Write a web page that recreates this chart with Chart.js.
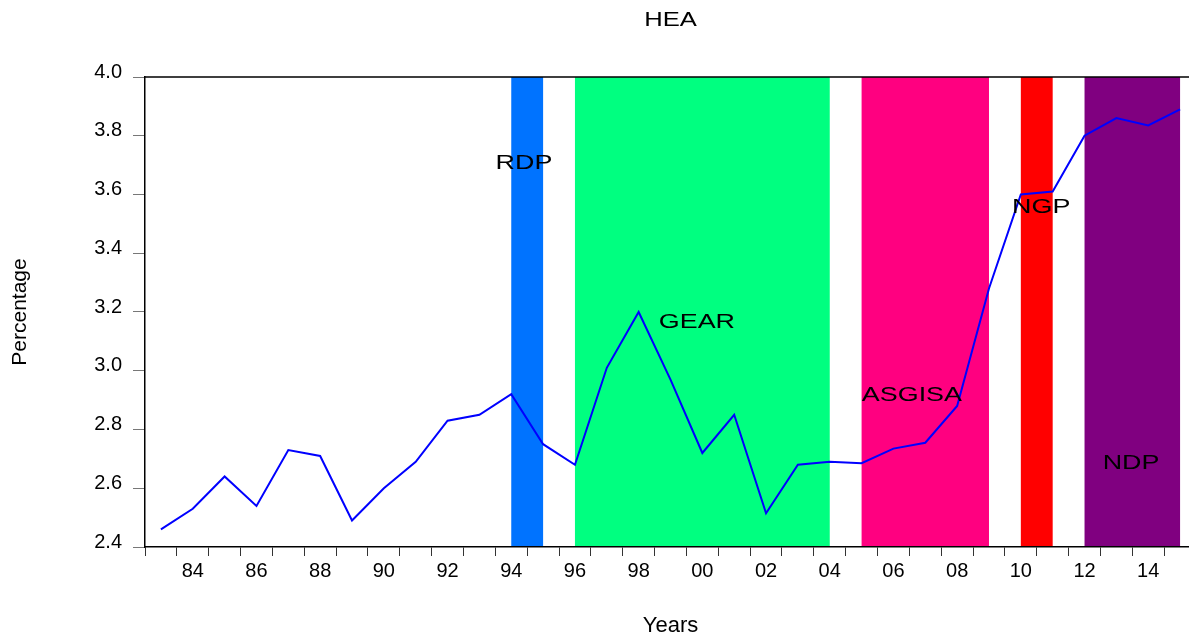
<!DOCTYPE html>
<html>
<head>
<meta charset="utf-8">
<title>HEA</title>
<script src="https://cdn.jsdelivr.net/npm/chart.js@4.4.1/dist/chart.umd.min.js"></script>
<style>
  html, body { margin: 0; padding: 0; overflow: hidden; background: #fff; }
  #wrap { width: 1200px; height: 640px; }
</style>
</head>
<body>
<div id="wrap"><canvas id="chartHea" width="1200" height="640"></canvas></div>
<script>
// data (annual, 1983-2015)
const years = [
  "83", "84", "85", "86", "87", "88", "89", "90", "91", "92", "93",
  "94", "95", "96", "97", "98", "99", "00", "01", "02", "03", "04",
  "05", "06", "07", "08", "09", "10", "11", "12", "13", "14", "15",
];
const heaValues = [
  2.46, 2.53, 2.64, 2.54, 2.73, 2.71, 2.49, 2.60, 2.69, 2.83, 2.85,
  2.92, 2.75, 2.68, 3.01, 3.20, 2.97, 2.72, 2.85, 2.515, 2.68, 2.69,
  2.685, 2.735, 2.755, 2.88, 3.28, 3.60, 3.61, 3.80, 3.86, 3.835, 3.89,
];
const yTicks = [2.4, 2.6, 2.8, 3.0, 3.2, 3.4, 3.6, 3.8, 4.0];

// policy periods (shaded bands)
const policyNames = ["RDP", "GEAR", "ASGISA", "NGP", "NDP"];
const policyStart = ["94", "96", "05", "10", "12"];
const policyEnd = ["95", "04", "09", "11", "15"];
// where each name sits, in data units (year, value)
const labelYear = [1994.4, 1999.83, 2006.58, 2010.64, 2013.46];
const labelValue = [3.707, 3.166, 2.917, 3.557, 2.686];

// styles
const bandColors = ["#0073ff", "#00ff80", "#ff0080", "#ff0000", "#800080"];
const FONT = "'Liberation Sans', Arial, Helvetica, sans-serif";
const STRETCH = 1.28; // the original's text is drawn wider than plain Arial
Chart.defaults.font.family = FONT;
Chart.defaults.color = "#000";

function wideText(ctx, text, x, y) {
  ctx.save();
  ctx.translate(x, y);
  ctx.scale(STRETCH, 1);
  ctx.fillText(text, 0, 0);
  ctx.restore();
}

// shaded bands behind everything, names + frame on top
const bandsPlugin = {
  id: "bands",
  beforeDraw(chart) {
    const { ctx, chartArea, scales } = chart;
    const x = scales.x;
    ctx.save();
    policyNames.forEach((name, i) => {
      const x1 = x.getPixelForValue(years.indexOf(policyStart[i]));
      const x2 = x.getPixelForValue(years.indexOf(policyEnd[i]));
      ctx.fillStyle = bandColors[i];
      ctx.fillRect(x1, chartArea.top, x2 - x1, chartArea.bottom - chartArea.top);
    });
    ctx.restore();
  },
  afterDatasetsDraw(chart) {
    const { ctx, chartArea, scales } = chart;
    ctx.save();
    ctx.fillStyle = "#000";
    ctx.textAlign = "center";
    ctx.textBaseline = "middle";
    // chart title, centred over the plot
    ctx.font = "20px " + FONT;
    wideText(ctx, "HEA", (chartArea.left + chartArea.right) / 2, 20);
    // band names
    ctx.font = "21px " + FONT;
    policyNames.forEach((name, i) => {
      const px = scales.x.getPixelForValue(labelYear[i] - 1983);
      const py = scales.y.getPixelForValue(labelValue[i]);
      wideText(ctx, name, px, py);
    });
    // top / right frame line
    ctx.strokeStyle = "#000";
    ctx.lineWidth = 1.5;
    ctx.beginPath();
    ctx.moveTo(chartArea.left, chartArea.top);
    ctx.lineTo(chartArea.right, chartArea.top);
    ctx.lineTo(chartArea.right, chartArea.bottom);
    ctx.stroke();
    ctx.restore();
  },
};

const ctx = document.getElementById("chartHea").getContext("2d");
const chartHea = new Chart(ctx, {
  type: "line",
  data: {
    labels: years,
    datasets: [
      {
        label: "HEA",
        data: heaValues,
        borderColor: "#0000ff",
        borderWidth: 2,
        pointRadius: 0,
        tension: 0,
        fill: false,
      },
    ],
  },
  options: {
    responsive: false,
    animation: false,
    layout: { padding: { left: 0, right: 4, top: 77, bottom: 0 } },
    plugins: {
      legend: { display: false },
      tooltip: { enabled: false },
      title: { display: false },
    },
    scales: {
      x: {
        type: "category",
        offset: true,
        grid: {
          offset: true,
          drawOnChartArea: false,
          drawTicks: true,
          tickLength: 9,
          color: "#333",
        },
        border: { display: true, color: "#000", width: 1.5 },
        ticks: {
          autoSkip: false,
          maxRotation: 0,
          padding: 3,
          font: { size: 20 },
          color: "#000",
          callback: function (v, i) {
            const lab = years[i];
            return Number(lab) % 2 === 0 ? lab : "";
          },
        },
        title: {
          display: true,
          text: "Years",
          font: { size: 22 },
          color: "#000",
          padding: { top: 0, bottom: 1 },
        },
        afterFit: (s) => { s.height = 93; },
      },
      y: {
        min: yTicks[0],
        max: yTicks[yTicks.length - 1],
        afterBuildTicks: (s) => { s.ticks = yTicks.map((v) => ({ value: v })); },
        grid: {
          drawOnChartArea: false,
          drawTicks: true,
          tickLength: 12,
          color: "#777",
        },
        border: { display: true, color: "#000", width: 1.5 },
        ticks: {
          padding: 11,
          labelOffset: -5,
          font: { size: 20 },
          color: "#000",
          callback: (v) => Number(v).toFixed(1),
        },
        title: {
          display: true,
          text: "Percentage",
          font: { size: 21 },
          color: "#000",
          padding: { top: 8, bottom: 0 },
        },
        afterFit: (s) => { s.width = 145; },
      },
    },
  },
  plugins: [bandsPlugin],
});
</script>
</body>
</html>
